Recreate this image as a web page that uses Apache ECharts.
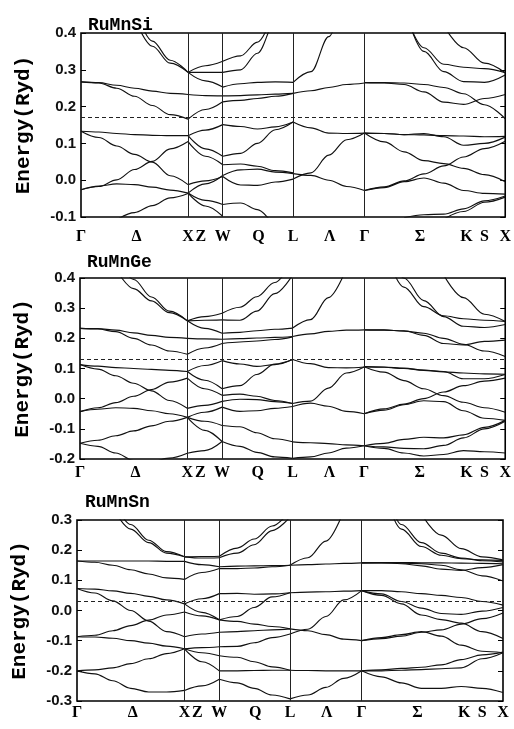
<!DOCTYPE html>
<html><head><meta charset="utf-8">
<script src="https://cdn.jsdelivr.net/npm/echarts@6/dist/echarts.min.js"></script>
<style>html,body{margin:0;padding:0;background:#fff}#c{width:514px;height:729px}</style>
</head><body><div id="c"></div>
<script>
// ---- k-path: tick positions and labels ----
const kPos = [0, 56, 108, 121, 143, 179, 214, 251, 286, 342, 389, 407, 428];
const kLab = ['Γ', 'Δ', 'X', 'Z', 'W', 'Q', 'L', 'Λ', 'Γ', 'Σ', 'K', 'S', 'X'];
const symLines = [108, 143, 214, 286];

// sample k positions on each path section
const kGX = [0, 18, 36, 54, 72, 90, 108];
const kXW = [108, 125.5, 143];
const kWL = [143, 161, 178, 196, 214];
const kLG = [214, 232, 250, 268, 286];
const kGK = [286, 306, 326, 346, 366, 386, 407, 428];

// Fermi levels (Ryd)
const fermiSi = 0.168, fermiGe = 0.13, fermiSn = 0.027;

// ===== RuMnSi =====
const si_GX = [
  [null, null, null, 0.44, 0.364, 0.318, 0.293],
  [null, null, null, 0.47, 0.378, 0.326, 0.293],
  [0.267, 0.265, 0.258, 0.25, 0.242, 0.236, 0.233],
  [0.267, 0.264, 0.25, 0.228, 0.203, 0.178, 0.166],
  [0.133, 0.131, 0.127, 0.124, 0.122, 0.121, 0.121],
  [0.133, 0.116, 0.093, 0.07, 0.049, 0.012, -0.012],
  [-0.026, -0.017, 0.001, 0.029, 0.051, 0.085, 0.105],
  [-0.026, -0.016, -0.01, -0.012, -0.019, -0.027, -0.035],
  [null, null, -0.108, -0.088, -0.069, -0.048, -0.036]
];
const si_XW = [
  [0.293, 0.311, 0.323], [0.293, 0.293, 0.293], [0.293, 0.27, 0.253],
  [0.233, 0.23, 0.229], [0.166, 0.192, 0.213], [0.121, 0.136, 0.151],
  [0.121, 0.085, 0.065], [0.105, 0.065, 0.042], [-0.012, -0.002, 0.01],
  [-0.035, -0.01, 0.013], [-0.035, -0.055, -0.066], [-0.035, -0.07, -0.098]
];
const si_WL = [
  [0.323, 0.338, 0.375, 0.44, 0.52],
  [0.293, 0.3, 0.345, 0.43, 0.53],
  [0.253, 0.262, 0.266, 0.267, 0.266],
  [0.229, 0.23, 0.232, 0.234, 0.236],
  [0.213, 0.217, 0.222, 0.228, 0.236],
  [0.151, 0.146, 0.139, 0.145, 0.158],
  [0.065, 0.073, 0.1, 0.137, 0.158],
  [0.042, 0.044, 0.038, 0.026, 0.02],
  [0.013, 0.028, 0.03, 0.022, 0.018],
  [0.01, -0.013, -0.014, -0.005, 0.003],
  [-0.066, -0.062, -0.08, -0.115, -0.15]
];
const si_LG = [
  [0.266, 0.295, 0.39, 0.55, null],
  [0.236, 0.243, 0.252, 0.26, 0.264],
  [0.158, 0.142, 0.128, 0.127, 0.128],
  [0.003, 0.02, 0.068, 0.11, 0.128],
  [0.018, 0.013, 0.0, -0.017, -0.028]
];
const si_GK = [
  [null, null, 0.46, 0.36, 0.315, 0.307, 0.303, 0.292],
  [null, null, 0.47, 0.35, 0.295, 0.268, 0.266, 0.286],
  [null, null, null, null, 0.42, 0.36, 0.318, 0.292],
  [0.265, 0.264, 0.26, 0.24, 0.212, 0.206, 0.222, 0.233],
  [0.265, 0.265, 0.264, 0.26, 0.252, 0.235, 0.205, 0.167],
  [0.128, 0.127, 0.124, 0.123, 0.121, 0.12, 0.118, 0.119],
  [0.128, 0.127, 0.124, 0.127, 0.118, 0.095, 0.1, 0.117],
  [0.128, 0.104, 0.077, 0.053, 0.045, 0.032, 0.015, -0.004],
  [-0.028, -0.018, -0.002, 0.017, 0.039, 0.063, 0.086, 0.106],
  [-0.028, -0.02, -0.004, 0.006, -0.008, -0.028, -0.036, -0.038],
  [null, null, -0.102, -0.094, -0.092, -0.078, -0.056, -0.043],
  [null, null, null, null, -0.106, -0.085, -0.06, -0.046]
];

// ===== RuMnGe =====
const ge_GX = [
  [null, null, 0.43, 0.365, 0.324, 0.285, 0.258],
  [null, null, 0.48, 0.395, 0.337, 0.29, 0.258],
  [0.233, 0.232, 0.227, 0.218, 0.21, 0.203, 0.2],
  [0.233, 0.231, 0.222, 0.2, 0.178, 0.158, 0.147],
  [0.113, 0.108, 0.103, 0.1, 0.097, 0.094, 0.09],
  [0.113, 0.098, 0.076, 0.051, 0.026, -0.006, -0.032],
  [-0.043, -0.03, -0.013, 0.008, 0.03, 0.055, 0.068],
  [-0.043, -0.035, -0.03, -0.032, -0.04, -0.05, -0.062],
  [-0.148, -0.138, -0.123, -0.107, -0.09, -0.075, -0.062],
  [-0.148, -0.158, -0.18, -0.205, -0.23, null, null],
  [null, null, null, null, -0.215, -0.197, -0.181]
];
const ge_XW = [
  [0.258, 0.272, 0.283], [0.258, 0.26, 0.261], [0.258, 0.233, 0.217],
  [0.2, 0.198, 0.197], [0.147, 0.168, 0.183], [0.09, 0.11, 0.126],
  [0.09, 0.061, 0.033], [0.068, 0.033, 0.011], [-0.032, -0.022, -0.009],
  [-0.062, -0.045, -0.028], [-0.062, -0.075, -0.089], [-0.062, -0.105, -0.142],
  [-0.181, -0.172, -0.142]
];
const ge_WL = [
  [0.283, 0.303, 0.338, 0.385, 0.46],
  [0.261, 0.26, 0.29, 0.348, 0.41],
  [0.217, 0.22, 0.225, 0.23, 0.234],
  [0.197, 0.199, 0.201, 0.203, 0.206],
  [0.183, 0.188, 0.191, 0.196, 0.205],
  [0.126, 0.115, 0.107, 0.113, 0.13],
  [0.033, 0.043, 0.08, 0.115, 0.13],
  [0.011, 0.015, 0.008, -0.006, -0.016],
  [-0.009, -0.002, -0.003, -0.01, -0.016],
  [-0.028, -0.042, -0.04, -0.032, -0.026],
  [-0.089, -0.093, -0.113, -0.133, -0.143],
  [-0.142, -0.158, -0.178, -0.193, -0.198]
];
const ge_LG = [
  [0.234, 0.262, 0.335, 0.43, null],
  [0.206, 0.215, 0.223, 0.227, 0.228],
  [0.13, 0.116, 0.103, 0.102, 0.105],
  [-0.016, -0.008, 0.035, 0.085, 0.105],
  [-0.026, -0.015, -0.025, -0.042, -0.05],
  [-0.143, -0.146, -0.149, -0.153, -0.156],
  [-0.198, -0.193, -0.18, -0.164, -0.156]
];
const ge_GK = [
  [null, 0.5, 0.37, 0.305, 0.275, 0.265, 0.26, 0.256],
  [null, 0.55, 0.4, 0.325, 0.272, 0.24, 0.236, 0.246],
  [null, null, null, null, 0.41, 0.335, 0.28, 0.256],
  [0.228, 0.227, 0.225, 0.21, 0.183, 0.178, 0.19, 0.194],
  [0.228, 0.228, 0.224, 0.217, 0.2, 0.18, 0.158, 0.14],
  [0.106, 0.104, 0.1, 0.094, 0.089, 0.085, 0.082, 0.081],
  [0.106, 0.105, 0.101, 0.095, 0.09, 0.066, 0.066, 0.08],
  [0.106, 0.088, 0.06, 0.033, 0.01, -0.012, -0.03, -0.045],
  [-0.05, -0.034, -0.018, 0.0, 0.022, 0.043, 0.058, 0.068],
  [-0.05, -0.038, -0.02, -0.007, -0.01, -0.04, -0.065, -0.072],
  [-0.156, -0.148, -0.135, -0.128, -0.13, -0.12, -0.095, -0.072],
  [-0.156, -0.16, -0.165, -0.166, -0.155, -0.13, -0.1, -0.075],
  [-0.156, -0.165, -0.18, -0.19, -0.185, -0.172, -0.176, -0.18]
];

// ===== RuMnSn =====
const sn_GX = [
  [null, null, 0.34, 0.27, 0.225, 0.19, 0.178],
  [null, null, 0.37, 0.285, 0.233, 0.195, 0.178],
  [0.164, 0.164, 0.164, 0.164, 0.164, 0.163, 0.163],
  [0.164, 0.16, 0.15, 0.135, 0.121, 0.108, 0.103],
  [0.073, 0.071, 0.065, 0.057, 0.047, 0.035, 0.022],
  [0.073, 0.058, 0.032, 0.0, -0.035, -0.07, -0.087],
  [-0.087, -0.082, -0.067, -0.05, -0.032, -0.015, -0.005],
  [-0.087, -0.088, -0.092, -0.1, -0.108, -0.118, -0.127],
  [-0.2, -0.197, -0.19, -0.176, -0.16, -0.143, -0.127],
  [-0.2, -0.21, -0.233, -0.258, -0.27, -0.27, -0.265]
];
const sn_XW = [
  [0.178, 0.179, 0.18], [0.178, 0.174, 0.175], [0.163, 0.152, 0.145],
  [0.103, 0.126, 0.139], [0.022, 0.039, 0.056], [0.022, -0.006, -0.031],
  [-0.005, -0.018, -0.031], [-0.087, -0.078, -0.072], [-0.127, -0.123, -0.12],
  [-0.127, -0.14, -0.15], [-0.127, -0.17, -0.2], [-0.265, -0.25, -0.228]
];
const sn_WL = [
  [0.18, 0.207, 0.237, 0.28, 0.33],
  [0.175, 0.19, 0.218, 0.265, 0.31],
  [0.145, 0.147, 0.148, 0.149, 0.15],
  [0.139, 0.139, 0.141, 0.145, 0.15],
  [0.056, 0.057, 0.054, 0.055, 0.059],
  [-0.031, -0.02, 0.01, 0.045, 0.059],
  [-0.031, -0.036, -0.045, -0.053, -0.061],
  [-0.072, -0.07, -0.067, -0.064, -0.061],
  [-0.12, -0.119, -0.107, -0.09, -0.078],
  [-0.15, -0.155, -0.17, -0.187, -0.198],
  [-0.2, -0.2, -0.199, -0.198, -0.198],
  [-0.228, -0.24, -0.258, -0.28, -0.293]
];
const sn_LG = [
  [0.15, 0.175, 0.23, 0.33, null],
  [0.15, 0.152, 0.154, 0.156, 0.158],
  [0.059, 0.061, 0.062, 0.064, 0.066],
  [-0.061, -0.067, -0.08, -0.095, -0.1],
  [-0.078, -0.062, -0.02, 0.035, 0.066],
  [-0.198, -0.199, -0.2, -0.2, -0.2],
  [-0.293, -0.28, -0.255, -0.225, -0.2]
];
const sn_GK = [
  [null, 0.42, 0.27, 0.212, 0.183, 0.172, 0.168, 0.166],
  [null, 0.45, 0.285, 0.225, 0.19, 0.174, 0.165, 0.161],
  [null, null, null, 0.32, 0.25, 0.205, 0.178, 0.168],
  [0.158, 0.159, 0.159, 0.158, 0.158, 0.157, 0.156, 0.155],
  [0.158, 0.158, 0.155, 0.148, 0.137, 0.133, 0.142, 0.152],
  [0.158, 0.158, 0.157, 0.155, 0.15, 0.135, 0.115, 0.098],
  [0.066, 0.066, 0.062, 0.056, 0.05, 0.043, 0.03, 0.018],
  [0.066, 0.055, 0.03, 0.008, -0.01, -0.013, -0.002, 0.01],
  [0.066, 0.05, 0.022, -0.015, -0.03, -0.042, -0.07, -0.093],
  [-0.1, -0.093, -0.085, -0.072, -0.064, -0.045, -0.027, -0.008],
  [-0.1, -0.09, -0.08, -0.07, -0.085, -0.115, -0.135, -0.14],
  [-0.2, -0.197, -0.192, -0.188, -0.18, -0.163, -0.147, -0.138],
  [-0.2, -0.2, -0.198, -0.196, -0.193, -0.19, -0.16, -0.14],
  [-0.2, -0.22, -0.24, -0.258, -0.258, -0.252, -0.258, -0.272]
];

// ---- build chart ----
const segK = [kGX, kXW, kWL, kLG, kGK];
const panels = [
  { title: 'RuMnSi', yMin: -0.1, yMax: 0.4, fermi: fermiSi, bands: [si_GX, si_XW, si_WL, si_LG, si_GK],
    grid: { left: 81, top: 33, width: 428, height: 184 }, tl: 83, tt: 11, lm: 12 },
  { title: 'RuMnGe', yMin: -0.2, yMax: 0.4, fermi: fermiGe, bands: [ge_GX, ge_XW, ge_WL, ge_LG, ge_GK],
    grid: { left: 80, top: 278, width: 427, height: 181 }, tl: 82, tt: 248, lm: 6 },
  { title: 'RuMnSn', yMin: -0.3, yMax: 0.3, fermi: fermiSn, bands: [sn_GX, sn_XW, sn_WL, sn_LG, sn_GK],
    grid: { left: 77, top: 520, width: 426, height: 181 }, tl: 80, tt: 488, lm: 4 }
];

const option = { animation: false, backgroundColor: '#fff', title: [], grid: [], xAxis: [], yAxis: [], series: [] };
const fmtY = v => (Math.abs(v) < 1e-9 ? '0.0' : v.toFixed(1));

panels.forEach((p, i) => {
  option.title.push({ text: p.title, left: p.tl, top: p.tt,
    textStyle: { fontFamily: 'Liberation Mono', fontSize: 18, fontWeight: 'bold', color: '#000' } });
  option.grid.push(Object.assign({ show: true, borderColor: '#000', borderWidth: 1.6 }, p.grid));
  option.xAxis.push({ gridIndex: i, type: 'value', min: 0, max: 428,
    axisLine: { show: false }, axisTick: { show: false }, splitLine: { show: false },
    axisLabel: { customValues: kPos, formatter: v => { const j = kPos.indexOf(v); return j >= 0 ? kLab[j] : ''; },
      margin: p.lm, fontFamily: 'Liberation Serif', fontWeight: 'bold', fontSize: 16, color: '#000' } });
  option.yAxis.push({ gridIndex: i, type: 'value', min: p.yMin, max: p.yMax, interval: 0.1,
    axisLine: { show: false }, splitLine: { show: false },
    axisTick: { show: true, inside: true, length: 5, lineStyle: { color: '#000' } },
    axisLabel: { formatter: fmtY, margin: 5, fontFamily: 'Liberation Sans', fontSize: 15, fontWeight: 'bold', color: '#111' },
    name: 'Energy(Ryd)', nameLocation: 'middle', nameGap: 47,
    nameTextStyle: { fontFamily: 'Liberation Mono', fontSize: 21, fontWeight: 'bold', color: '#000' } });
  option.yAxis.push({ gridIndex: i, type: 'value', position: 'right', min: p.yMin, max: p.yMax, interval: 0.1,
    axisLine: { show: false }, splitLine: { show: false }, axisLabel: { show: false },
    axisTick: { show: true, inside: true, length: 5, lineStyle: { color: '#000' } } });
  let first = true;
  p.bands.forEach((seg, s) => {
    const ks = segK[s];
    seg.forEach(b => {
      const data = [];
      b.forEach((e, j) => { if (e !== null) data.push([ks[j], e]); });
      const ser = { type: 'line', xAxisIndex: i, yAxisIndex: 2 * i, data, smooth: 0.35, smoothMonotone: 'x',
        symbol: 'none', showSymbol: false, silent: true, clip: true,
        lineStyle: { color: '#111', width: 1.15 } };
      if (first) {
        ser.markLine = { silent: true, symbol: ['none', 'none'], label: { show: false }, animation: false,
          data: symLines.map(x => ({ xAxis: x, lineStyle: { type: 'solid', width: 1, color: '#222' } }))
            .concat([{ yAxis: p.fermi, lineStyle: { type: [4, 3], width: 1, color: '#222' } }]) };
        first = false;
      }
      option.series.push(ser);
    });
  });
});

const chart = echarts.init(document.getElementById('c'));
chart.setOption(option);
</script></body></html>
